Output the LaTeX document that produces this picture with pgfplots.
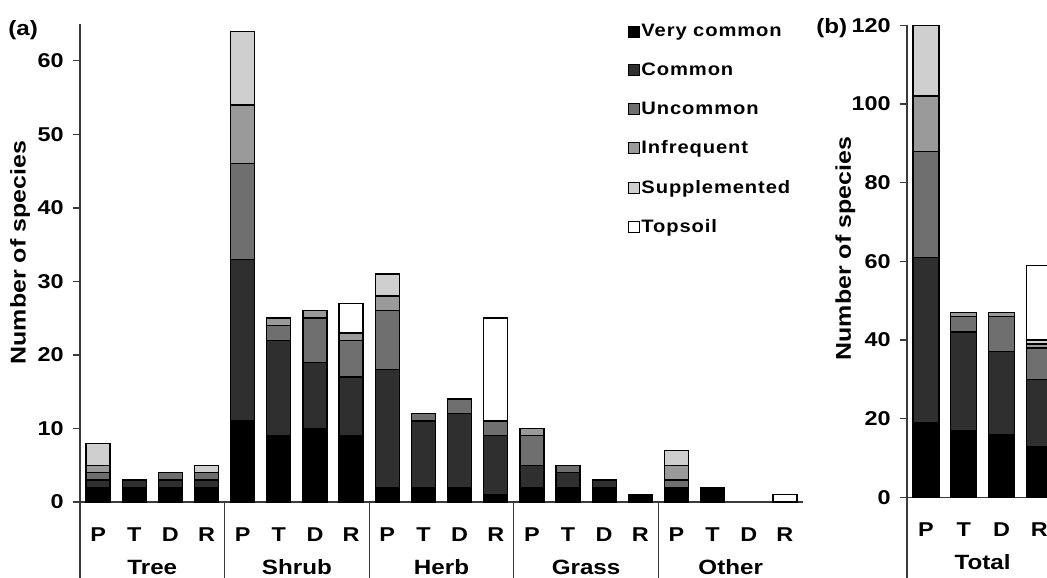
\documentclass[border=0pt]{standalone}
\usepackage{fontspec}
\setmainfont{Liberation Sans}[FakeStretch=1.17]
\newfontfamily\legfont{Liberation Sans}[FakeStretch=1.12, LetterSpace=5]
\usepackage{pgfplots}
\usepackage{pgfplotstable}
\pgfplotsset{compat=1.18}
\definecolor{cvc}{HTML}{000000}
\definecolor{ccom}{HTML}{2F2F2F}
\definecolor{cunc}{HTML}{6F6F6F}
\definecolor{cinf}{HTML}{9A9A9A}
\definecolor{csup}{HTML}{CFCFCF}
\definecolor{ctop}{HTML}{FFFFFF}
\definecolor{axc}{HTML}{3A3A3A}

\pgfplotstableread{
x vc c u i s t
0 2 1 1 1 3 0
1 2 1 0 0 0 0
2 2 1 1 0 0 0
3 2 1 1 0 1 0
4 11 22 13 8 10 0
5 9 13 2 1 0 0
6 10 9 6 1 0 0
7 9 8 5 1 0 4
8 2 16 8 2 3 0
9 2 9 1 0 0 0
10 2 10 2 0 0 0
11 1 8 2 0 0 14
12 2 3 4 1 0 0
13 2 2 1 0 0 0
14 2 1 0 0 0 0
15 1 0 0 0 0 0
16 2 0 1 2 2 0
17 2 0 0 0 0 0
18 0 0 0 0 0 0
19 0 0 0 0 0 1
}\dataA

\pgfplotstableread{
x vc c u i s t
0 19 42 27 14 18 0
1 17 25 4 1 0 0
2 16 21 9 1 0 0
3 13 17 8 1 1 19
}\dataB

\pgfplotsset{
  common/.style={
    scale only axis,
    ybar stacked,
    ymin=0,
    axis lines=left,
    axis line style={-, line width=1pt, draw=axc},
    tick align=outside,
    major tick length=5.5pt,
    y tick style={line width=1pt, draw=axc},
    x tick style={draw=none},
    xtick={0,1,...,19},
    tick label style={font=\fontsize{15}{18}\selectfont\bfseries},
    /pgf/number format/assume math mode=true,
    yticklabel style={anchor=east, inner sep=0pt, xshift=-6.5pt},
    xticklabel style={anchor=base, inner sep=0pt, yshift=-24pt},
    every axis plot/.append style={draw=black, line width=1pt},
    clip=false,
  },
}
\tikzset{gl/.style={anchor=base, font=\fontsize{15.5}{18}\selectfont\bfseries},
  sep/.style={line width=1pt, draw=axc}}

\begin{document}
\begin{tikzpicture}
\path[use as bounding box] (0,0) rectangle (785.25pt,433.5pt);
\clip (0,0) rectangle (785.25pt,433.5pt);

% panel (a)
\begin{axis}[common,
  at={(60pt,57pt)}, anchor=south west,
  width=542.25pt, height=358.5pt,
  xmin=-0.5, xmax=19.5, ymax=65,
  ytick={0,10,...,60},
  bar width=18pt,
  xticklabels={P,T,D,R,P,T,D,R,P,T,D,R,P,T,D,R,P,T,D,R},
  legend style={at={(0.757,1.004)}, anchor=north west, draw=none, fill=none,
    font=\legfont\bfseries\fontsize{13.5}{15}\selectfont,
    row sep=15.3pt, inner sep=0pt,
    nodes={inner sep=1.5pt},
    cells={anchor=west}},
  legend image code/.code={\draw[#1, line width=0.7pt] (0pt,-4.1pt) rectangle (8.2pt,4.1pt);},
]
\addplot[fill=cvc] table[x=x,y=vc]{\dataA};
\addplot[fill=ccom] table[x=x,y=c]{\dataA};
\addplot[fill=cunc] table[x=x,y=u]{\dataA};
\addplot[fill=cinf] table[x=x,y=i]{\dataA};
\addplot[fill=csup] table[x=x,y=s]{\dataA};
\addplot[fill=ctop] table[x=x,y=t]{\dataA};
\legend{Very common,Common,Uncommon,Infrequent,Supplemented,Topsoil}
\draw[sep] (axis cs:-0.5,0) -- ++(0pt,-62pt);
\draw[sep] (axis cs:3.5,0) -- ++(0pt,-62pt);
\draw[sep] (axis cs:7.5,0) -- ++(0pt,-62pt);
\draw[sep] (axis cs:11.5,0) -- ++(0pt,-62pt);
\draw[sep] (axis cs:15.5,0) -- ++(0pt,-62pt);
\node[gl, yshift=-54.75pt] at (axis cs:1.5,0) {Tree};
\node[gl, yshift=-54.75pt] at (axis cs:5.5,0) {Shrub};
\node[gl, yshift=-54.75pt] at (axis cs:9.5,0) {Herb};
\node[gl, yshift=-54.75pt] at (axis cs:13.5,0) {Grass};
\node[gl, yshift=-54.75pt] at (axis cs:17.5,0) {Other};
\end{axis}

% panel (b)
\begin{axis}[common,
  at={(680.25pt,60.5pt)}, anchor=south west,
  width=113.4pt, height=354pt,
  xmin=-0.5, xmax=3.5, ymax=120,
  ytick={0,20,...,120},
  bar width=19.5pt,
  xtick={0,1,2,3},
  xticklabels={P,T,D,R},
]
\addplot[fill=cvc] table[x=x,y=vc]{\dataB};
\addplot[fill=ccom] table[x=x,y=c]{\dataB};
\addplot[fill=cunc] table[x=x,y=u]{\dataB};
\addplot[fill=cinf] table[x=x,y=i]{\dataB};
\addplot[fill=csup] table[x=x,y=s]{\dataB};
\addplot[fill=ctop] table[x=x,y=t]{\dataB};
\draw[sep] (axis cs:-0.5,0) -- ++(0pt,-62pt);
\node[gl, yshift=-54.5pt] at (axis cs:1.5,0) {Total};
\end{axis}

% labels
\node[rotate=90, font=\fontsize{16}{18}\selectfont\bfseries] at (15pt,244pt) {Number of species};
\node[rotate=90, font=\fontsize{16}{18}\selectfont\bfseries] at (634pt,247pt) {Number of species};
\node[anchor=base west, inner sep=0pt, font=\fontsize{15.5}{18}\selectfont\bfseries] at (6pt,407pt) {(a)};
\node[anchor=base west, inner sep=0pt, font=\fontsize{15.5}{18}\selectfont\bfseries] at (612pt,408.5pt) {(b)};
\end{tikzpicture}
\end{document}
